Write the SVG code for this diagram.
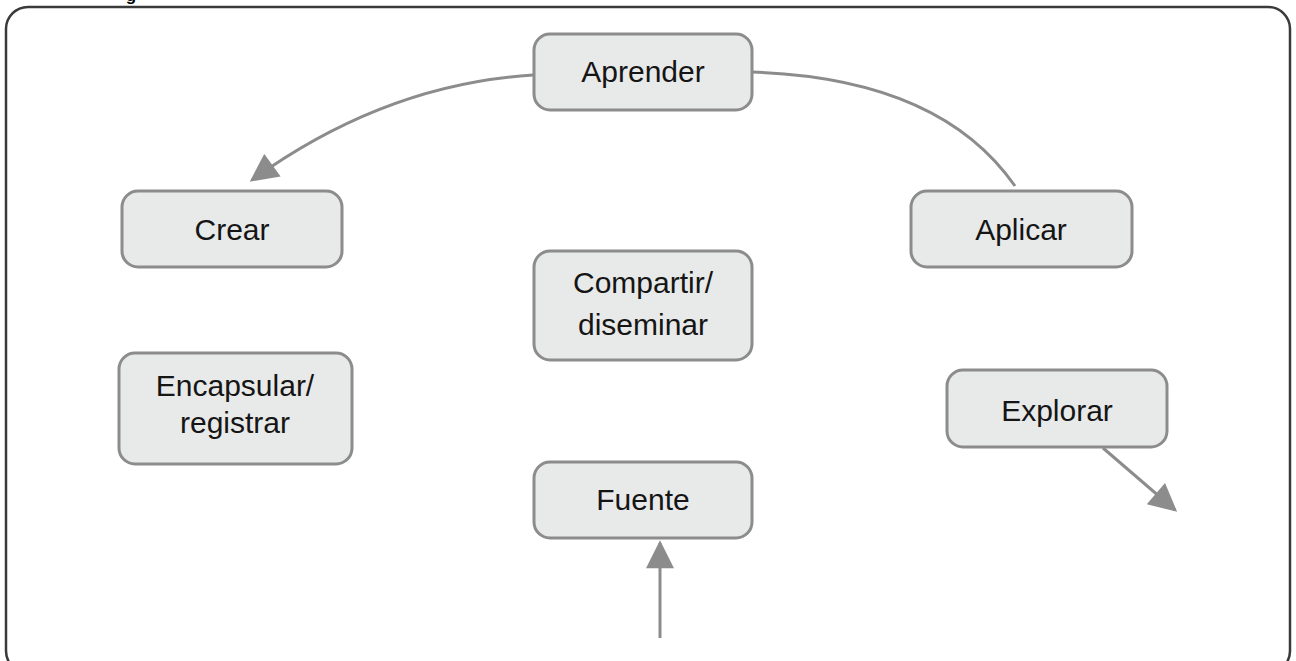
<svg xmlns="http://www.w3.org/2000/svg" width="1296" height="661" viewBox="0 0 1296 661">
  <defs>
    <marker id="arrow" viewBox="0 0 10 10" refX="9" refY="5" markerUnits="userSpaceOnUse" markerWidth="30" markerHeight="28" orient="auto">
      <path d="M0,0 L10,5 L0,10 Z" fill="#8c8c8c"/>
    </marker>
    <style>
      .box { fill: #e8e9e9; stroke: #8c8c8c; stroke-width: 3; }
      .label { font-family: "Liberation Sans", Arial, sans-serif; font-size: 30px; fill: #151515; text-anchor: middle; }
      .link { fill: none; stroke: #8c8c8c; stroke-width: 3; }
      .frame { fill: none; stroke: #3a3a3a; stroke-width: 2.5; }
    </style>
  </defs>
  <rect width="1296" height="661" fill="#ffffff"/>

  <!-- cropped caption line above the frame -->
  <text x="131" y="0.5" font-family="Liberation Sans, Arial, sans-serif" font-size="17" font-weight="bold" fill="#000" text-anchor="middle">g</text>

  <!-- outer frame -->
  <rect class="frame" x="6" y="7" width="1284" height="666" rx="22" ry="22"/>

  <!-- connectors -->
  <g id="connectors">
    <path class="link" d="M533,75 Q385,84 252,180" marker-end="url(#arrow)"/>
    <path class="link" d="M752,72 Q940,78 1015,186"/>
    <line class="link" x1="1103" y1="448" x2="1175" y2="510" marker-end="url(#arrow)"/>
    <line class="link" x1="660" y1="638" x2="660" y2="543" marker-end="url(#arrow)"/>
  </g>

  <g id="aprender">
    <rect class="box" x="534" y="34" width="218" height="76" rx="16"/>
    <text class="label" x="643" y="82">Aprender</text>
  </g>
  <g id="crear">
    <rect class="box" x="122" y="191" width="220" height="76" rx="16"/>
    <text class="label" x="232" y="240">Crear</text>
  </g>
  <g id="aplicar">
    <rect class="box" x="911" y="191" width="221" height="76" rx="16"/>
    <text class="label" x="1021" y="240">Aplicar</text>
  </g>
  <g id="compartir">
    <rect class="box" x="534" y="251" width="218" height="109" rx="16"/>
    <text class="label" x="643" y="293">Compartir/</text>
    <text class="label" x="643" y="335">diseminar</text>
  </g>
  <g id="encapsular">
    <rect class="box" x="119" y="353" width="233" height="111" rx="16"/>
    <text class="label" x="235" y="396">Encapsular/</text>
    <text class="label" x="235" y="433">registrar</text>
  </g>
  <g id="explorar">
    <rect class="box" x="947" y="370" width="220" height="77" rx="16"/>
    <text class="label" x="1057" y="421">Explorar</text>
  </g>
  <g id="fuente">
    <rect class="box" x="534" y="462" width="218" height="76" rx="16"/>
    <text class="label" x="643" y="510">Fuente</text>
  </g>
</svg>
